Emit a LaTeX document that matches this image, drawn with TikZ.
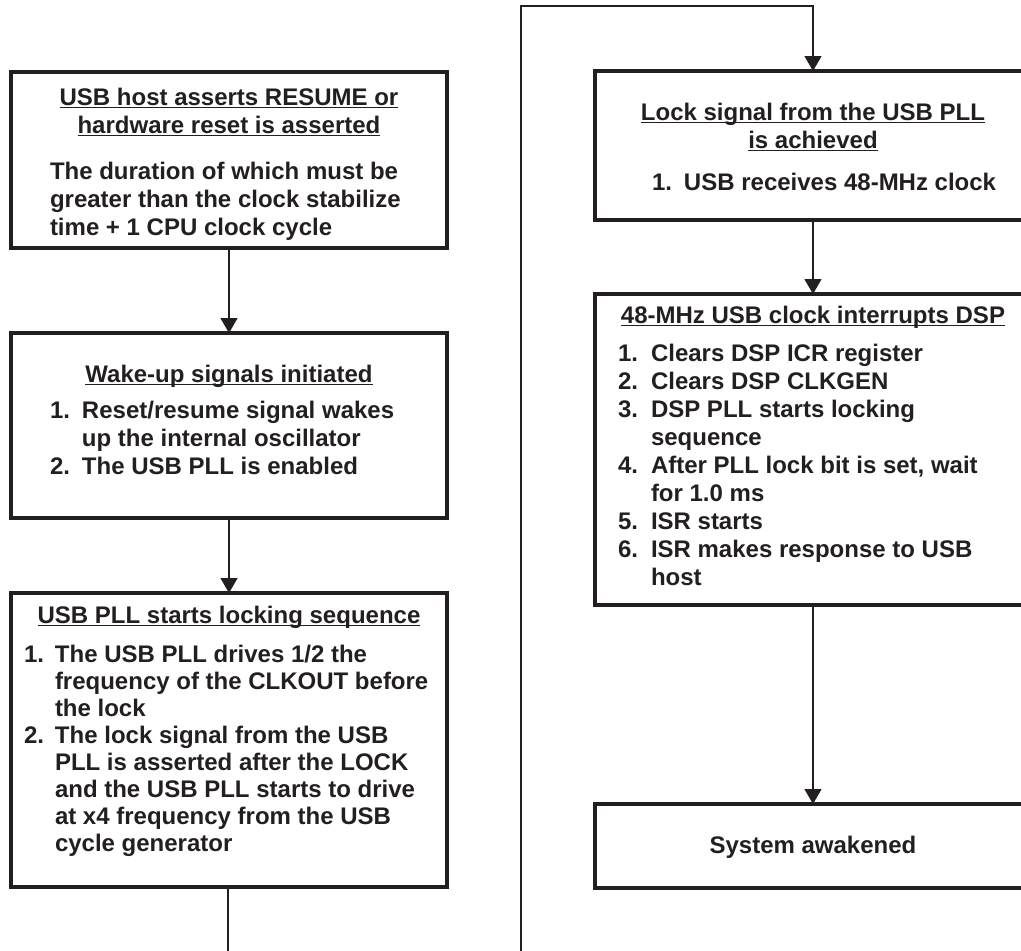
\documentclass[tikz,border=0pt]{standalone}
\usepackage{fontspec}
\setmainfont{Liberation Sans}
\usetikzlibrary{arrows.meta}
\definecolor{ink}{RGB}{35,31,32}
% underline sitting just below the baseline
\newcommand\ulin[1]{\setbox0\hbox{#1}\rlap{\rule[-3.2pt]{\wd0}{1.6pt}}\box0}
\begin{document}
\begin{tikzpicture}[x=1pt,y=-1pt,
  box/.style={draw=ink, line width=3.4pt, rectangle, inner sep=0pt, outer sep=0pt},
  txt/.style={inner sep=0pt, outer sep=0pt, text=ink,
              font=\fontsize{24}{28}\selectfont\bfseries},
  tight/.style={font=\fontsize{24}{27}\selectfont\bfseries},
  conn/.style={draw=ink, line width=1.3pt, -{Triangle[length=15pt,width=17pt]}},
  wire/.style={draw=ink, line width=1.3pt}]
\clip (0,0) rectangle (1021,951);

% ---- left column ----
\node[box, minimum width=436pt, minimum height=176pt] (b1) at (229,160) {};
\node[box, minimum width=436pt, minimum height=185pt] (b2) at (229,425.5) {};
\node[box, minimum width=436pt, minimum height=294pt] (b3) at (229,740) {};

\node[txt, anchor=base] (t1) at (229,105)
  {\begin{tabular}[t]{@{}c@{}}\ulin{USB host asserts RESUME or}\\ \ulin{hardware reset is asserted}\end{tabular}};
\node[txt, anchor=base west] (d1) at (50,179)
  {\begin{tabular}[t]{@{}l@{}}The duration of which must be\\ greater than the clock stabilize\\ time + 1 CPU clock cycle\end{tabular}};

\node[txt, anchor=base] (t2) at (229,382)
  {\ulin{Wake-up signals initiated}};
\node[txt, anchor=base west] (d2) at (50,418)
  {\begin{tabular}[t]{@{}p{32pt}@{}l@{}}1. & Reset/resume signal wakes\\ & up the internal oscillator\\ 2. & The USB PLL is enabled\end{tabular}};

\node[txt, anchor=base] (t3) at (229,623)
  {\ulin{USB PLL starts locking sequence}};
\node[txt, tight, anchor=base west] (d3) at (24,662)
  {\begin{tabular}[t]{@{}p{31pt}@{}l@{}}1. & The USB PLL drives 1/2 the\\ & frequency of the CLKOUT before\\ & the lock\\ 2. & The lock signal from the USB\\ & PLL is asserted after the LOCK\\ & and the USB PLL starts to drive\\ & at x4 frequency from the USB\\ & cycle generator\end{tabular}};

% ---- right column ----
\node[box, minimum width=437pt, minimum height=149pt] (b4) at (813.5,145.5) {};
\node[box, minimum width=437pt, minimum height=311pt] (b5) at (813.5,449.5) {};
\node[box, minimum width=437pt, minimum height=84pt] (b6) at (813.5,846) {};

\node[txt, anchor=base] (t4) at (813,120)
  {\begin{tabular}[t]{@{}c@{}}\ulin{Lock signal from the USB PLL}\\ \ulin{is achieved}\end{tabular}};
\node[txt, anchor=base west] (d4) at (652,190)
  {\begin{tabular}[t]{@{}p{32pt}@{}l@{}}1. & USB receives 48-MHz clock\end{tabular}};

\node[txt, anchor=base] (t5) at (813,323)
  {\ulin{48-MHz USB clock interrupts DSP}};
\node[txt, anchor=base west] (d5) at (618,361)
  {\begin{tabular}[t]{@{}p{33pt}@{}l@{}}1. & Clears DSP ICR register\\ 2. & Clears DSP CLKGEN\\ 3. & DSP PLL starts locking\\ & sequence\\ 4. & After PLL lock bit is set, wait\\ & for 1.0 ms\\ 5. & ISR starts\\ 6. & ISR makes response to USB\\ & host\end{tabular}};

\node[txt, anchor=base] (t6) at (813,853) {System awakened};

% ---- connectors ----
\coordinate (loopa) at (228,960);
\coordinate (loopb) at (521,960);
\coordinate (loopc) at (521,6);
\coordinate (loopd) at (813,6);
\draw[conn] (b1.south -| 229,0) -- (b2.north -| 229,0);
\draw[conn] (b2.south -| 229,0) -- (b3.north -| 229,0);
\draw[wire] (b3.south -| 228,0) -- (loopa);
\draw[conn] (loopb) -- (loopc) -- (loopd) -- (b4.north -| 813,0);
\draw[conn] (b4.south -| 813,0) -- (b5.north -| 813,0);
\draw[conn] (b5.south -| 813,0) -- (b6.north -| 813,0);
\end{tikzpicture}
\end{document}
